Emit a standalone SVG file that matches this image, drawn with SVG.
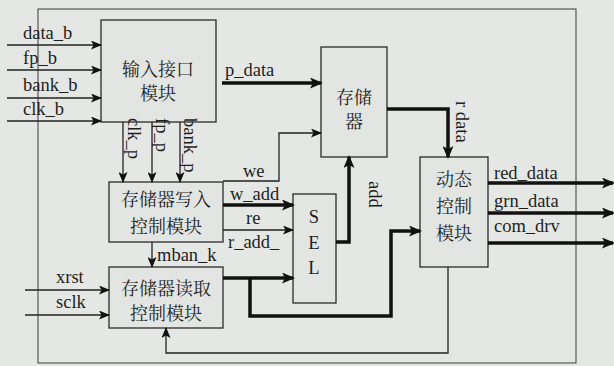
<svg xmlns="http://www.w3.org/2000/svg" width="614" height="366" viewBox="0 0 614 366">
<style>
.bg{fill:#e5e7e4}
.frame{fill:none;stroke:#3a3a3a;stroke-width:1}
.box{fill:#e3e5e2;stroke:#2a2a2a;stroke-width:1.3}
.thin{fill:none;stroke:#222;stroke-width:1.3}
.thick{fill:none;stroke:#111;stroke-width:3.5}
.lat{font-family:"Liberation Serif",serif;font-size:18.5px;fill:#1e1e1e}
.cjk{font-family:"Noto Serif CJK SC","Noto Sans CJK SC",serif;font-size:18px;fill:#1e1e1e;text-anchor:middle}
</style>
<defs>
<marker id="a" markerUnits="userSpaceOnUse" markerWidth="11" markerHeight="9" refX="10" refY="4.5" orient="auto">
<path d="M0,0 L11,4.5 L0,9 L2.5,4.5 z" fill="#111"/>
</marker>
<marker id="A" markerUnits="userSpaceOnUse" markerWidth="13" markerHeight="11" refX="11" refY="5.5" orient="auto">
<path d="M0,0 L13,5.5 L0,11 L3,5.5 z" fill="#111"/>
</marker>
</defs>
<rect class="bg" x="0" y="0" width="614" height="366"/>
<rect class="frame" x="38" y="9" width="538" height="354"/>

<g id="input">
<rect class="box" x="101" y="20" width="115" height="102"/>
<text class="cjk" x="158" y="76">输入接口</text>
<text class="cjk" x="158" y="100">模块</text>
</g>
<g id="memory">
<rect class="box" x="321" y="47" width="66" height="110"/>
<text class="cjk" x="354" y="104">存储</text>
<text class="cjk" x="354" y="128">器</text>
</g>
<g id="write">
<rect class="box" x="109" y="182" width="114" height="60"/>
<text class="cjk" x="166" y="206">存储器写入</text>
<text class="cjk" x="166" y="233">控制模块</text>
</g>
<g id="sel">
<rect class="box" x="293" y="194" width="43" height="109"/>
<text class="lat" x="314" y="223" text-anchor="middle">S</text>
<text class="lat" x="314" y="249" text-anchor="middle">E</text>
<text class="lat" x="314" y="274" text-anchor="middle">L</text>
</g>
<g id="read">
<rect class="box" x="109" y="267" width="114" height="61"/>
<text class="cjk" x="166" y="295">存储器读取</text>
<text class="cjk" x="166" y="320">控制模块</text>
</g>
<g id="dynamic">
<rect class="box" x="420" y="157" width="68" height="110"/>
<text class="cjk" x="454" y="186">动态</text>
<text class="cjk" x="454" y="213">控制</text>
<text class="cjk" x="454" y="240">模块</text>
</g>

<g id="connectors">
<path class="thin" d="M7,45 H101" marker-end="url(#a)"/>
<path class="thin" d="M7,70 H101" marker-end="url(#a)"/>
<path class="thin" d="M7,98 H101" marker-end="url(#a)"/>
<path class="thin" d="M7,121 H101" marker-end="url(#a)"/>
<path class="thin" d="M123,122 V182" marker-end="url(#a)"/>
<path class="thin" d="M152,122 V182" marker-end="url(#a)"/>
<path class="thin" d="M180,122 V182" marker-end="url(#a)"/>
<path class="thick" d="M222,83 H321" marker-end="url(#A)"/>
<path class="thin" d="M223,181 H279 V133 H321" marker-end="url(#a)"/>
<path class="thick" d="M223,205 H293" marker-end="url(#A)"/>
<path class="thin" d="M223,230 H293" marker-end="url(#a)"/>
<path class="thick" d="M336,242 H349 V157" marker-end="url(#A)"/>
<path class="thick" d="M387,109 H448 V157" marker-end="url(#A)"/>
<path class="thin" d="M152,242 V267" marker-end="url(#a)"/>
<path class="thin" d="M25,290 H109" marker-end="url(#a)"/>
<path class="thin" d="M25,315 H109" marker-end="url(#a)"/>
<path class="thick" d="M223,278 H293" marker-end="url(#A)"/>
<path class="thick" d="M250,278 V316 H391 V231 H420" marker-end="url(#A)"/>
<path class="thin" d="M448,267 V353 H166 V328" marker-end="url(#a)"/>
<path class="thick" d="M488,183 H613" marker-end="url(#A)"/>
<path class="thick" d="M488,213 H613" marker-end="url(#A)"/>
<path class="thick" d="M488,243 H613" marker-end="url(#A)"/>
</g>

<g id="labels">
<text class="lat" x="23" y="39">data_b</text>
<text class="lat" x="23" y="64">fp_b</text>
<text class="lat" x="23" y="91">bank_b</text>
<text class="lat" x="23" y="115">clk_b</text>
<text class="lat" x="225" y="76">p_data</text>
<text class="lat" transform="translate(128,118) rotate(90)">clk_p</text>
<text class="lat" transform="translate(156,118) rotate(90)">fp_p</text>
<text class="lat" transform="translate(184,118) rotate(90)">bank_p</text>
<text class="lat" x="243" y="177">we</text>
<text class="lat" x="230" y="200">w_add</text>
<text class="lat" x="246" y="224">re</text>
<text class="lat" x="228" y="248">r_add_</text>
<text class="lat" x="157" y="261">mban_k</text>
<text class="lat" x="56" y="283">xrst</text>
<text class="lat" x="56" y="308">sclk</text>
<text class="lat" transform="translate(456,101) rotate(90)">r data</text>
<text class="lat" transform="translate(369,181) rotate(90)">add</text>
<text class="lat" x="494" y="179">red_data</text>
<text class="lat" x="494" y="207">grn_data</text>
<text class="lat" x="494" y="232">com_drv</text>
</g>
</svg>
